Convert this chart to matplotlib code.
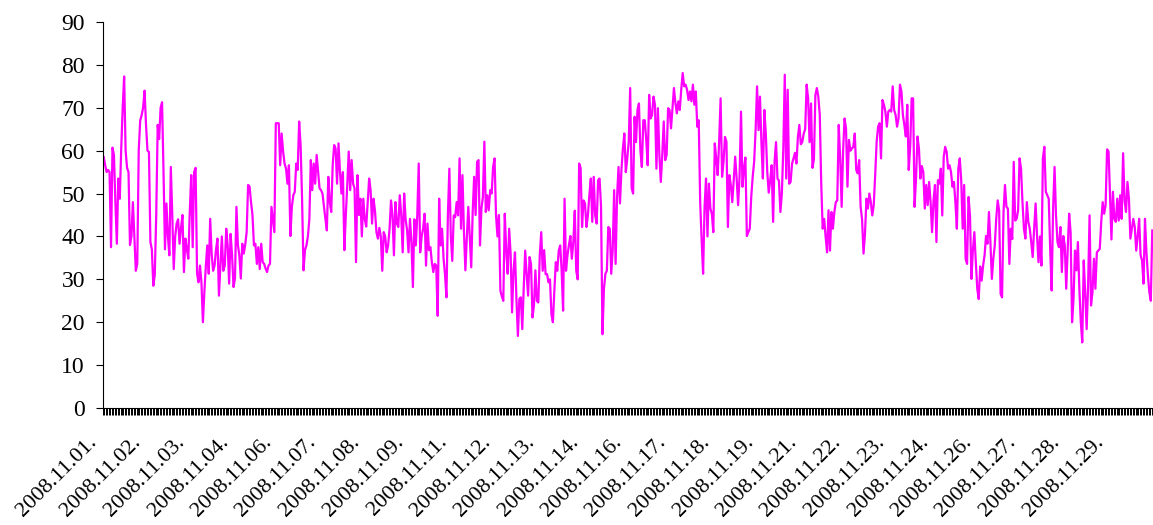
import numpy as np
import matplotlib.pyplot as plt
from matplotlib.transforms import ScaledTranslation

# hourly readings, 2008.11.01 - 2008.11.30 (one row = 30 hours = one label step)
hourly_values = [
    58.5, 56.6, 55, 55.5, 55, 37.5, 60.7, 59, 48, 38.3, 53.5, 48.8, 60.5, 70, 77.3, 60, 56, 55, 38, 40, 48, 40, 32, 33.6, 60, 67, 68.3, 70, 74, 66,
    60, 59.7, 38.7, 37, 28.5, 31, 45, 66, 62.7, 70, 71.3, 55, 37, 47.7, 40, 35.6, 56.2, 45, 32.4, 40, 43, 44, 38.3, 42, 45, 31.7, 39.5, 37, 34.8, 45.7,
    54.3, 37.5, 55, 56, 31.3, 29.3, 33.2, 29.3, 20, 27, 33, 37.9, 31.3, 44.1, 36, 32, 33.2, 37, 39.5, 26.2, 33.2, 40, 32, 33.2, 41.8, 37.9, 29, 40.6, 35.6, 28.2,
    30.2, 46.9, 38, 35.6, 30.2, 38.3, 36, 38, 41, 52, 51.6, 48, 45, 37.9, 38.3, 33.6, 37.5, 32.4, 38.3, 34, 33.6, 32.5, 31.7, 33.2, 33.6, 46.9, 44, 41, 66.4, 66.4,
    66.4, 56.6, 64, 59.8, 57, 55.8, 52.3, 56.6, 40.1, 46.9, 49.6, 50.4, 57, 55.5, 66.8, 61.3, 48.8, 32.1, 36.8, 37.9, 40, 44, 57.8, 50.8, 57, 52.3, 59, 55, 51.2, 50.8,
    50, 47, 44.1, 41.4, 53.9, 48, 45.7, 56.6, 61.3, 60.5, 52.3, 61.7, 55, 50, 55, 36.8, 45, 52, 59.8, 50.8, 57.8, 52.3, 51.2, 34, 54.3, 45, 48.8, 40, 48.8, 44,
    42.3, 48, 53.5, 50.8, 43, 48.8, 46, 41, 39.5, 42, 40, 32, 41, 40, 36.3, 37.9, 41.8, 48.4, 44.9, 35.6, 48, 43, 42.2, 49.6, 44.9, 36.3, 50, 44, 41.5, 36.3,
    44.1, 38.7, 28.2, 44, 37.9, 44.9, 57, 36.3, 40, 41.8, 45.3, 33.2, 43, 36.8, 37.5, 34, 31.7, 33.6, 33.2, 21.5, 48.8, 37.9, 41.8, 35, 31.2, 25.8, 45, 55.8, 40, 34.3,
    44.9, 44.5, 48, 44.9, 58.2, 41.8, 54.3, 41, 32.1, 40, 46.9, 40, 32.8, 45.7, 53.9, 45, 57.4, 57.8, 37.9, 46.5, 49.2, 62.1, 45.7, 49.6, 46.1, 50.8, 50, 56.2, 58.2, 44.9,
    40, 45, 27.4, 26, 25, 45.3, 36.7, 31.3, 41.8, 36, 22.3, 32.1, 36.3, 25.4, 16.8, 25.4, 25.8, 18.4, 28, 36.7, 31.2, 26.2, 35.2, 33.6, 21.1, 23.9, 32.1, 25, 24.6, 35.6,
    41, 32, 36.8, 31.2, 31.2, 29.3, 30, 21.8, 20, 27.4, 34, 32, 36.7, 37.9, 32, 22.7, 48.8, 32, 35.6, 38, 40.1, 34.8, 38.7, 46, 32, 30, 57, 56, 42.2, 48.4,
    47.7, 42.2, 44.9, 49.6, 53.5, 43.4, 53.9, 44.9, 43, 53.1, 53.5, 47, 17.2, 27.8, 31.3, 32, 42.2, 41.8, 31.3, 36.8, 50.8, 33.6, 49.2, 56.2, 47.7, 55.5, 60.5, 64, 55, 58.2,
    62.1, 74.6, 51.2, 50, 67.9, 62, 69.5, 71, 60, 56.2, 67.1, 67.1, 62.5, 56.6, 73, 67.5, 68.3, 72.6, 70.7, 55.8, 69.9, 59, 52.7, 59, 66.8, 57.8, 59, 69.9, 69.5, 65.2,
    70, 74.6, 71.1, 68.7, 71.5, 69.5, 74.2, 78.1, 75, 75.4, 74.2, 71.8, 73.8, 71.5, 75.4, 70.7, 73.8, 65.6, 67.1, 48, 39.1, 31.3, 46.9, 53.5, 40, 52.3, 46.5, 45.3, 41, 61.7,
    58.2, 54.3, 62.1, 72.2, 53.9, 57.4, 63.2, 62.1, 42.2, 54.3, 52, 48, 53.1, 58.6, 53.5, 47.3, 53.9, 69.1, 51.6, 55.8, 58.4, 40.1, 41, 41.8, 49.2, 53.9, 57.4, 64.8, 75, 64.8,
    72.6, 61.7, 53.5, 69.5, 64, 55, 50.2, 53, 56.6, 43.4, 57.4, 62, 53.5, 53, 45.7, 50, 60.5, 77.7, 53.5, 74.2, 52.3, 52.7, 57, 58.2, 59.5, 57, 63.2, 66, 61.5, 62,
    64, 65, 75.4, 72.2, 62, 71, 56, 58, 73, 74.6, 72.6, 68.3, 52.3, 41.8, 44.1, 40, 36.3, 46.1, 36.7, 45.7, 41.8, 45.7, 48, 48.4, 66, 58.2, 46.9, 60, 67.5, 65.2,
    51.6, 62.5, 60, 60.5, 60.9, 64, 55.5, 54.7, 57.8, 47, 44, 36, 40.6, 48.8, 46.5, 50, 48, 44.9, 47.3, 54.3, 62.1, 65.6, 66.4, 58.2, 71.8, 70.7, 69.1, 65.6, 69.1, 69.5,
    69.1, 75, 69.5, 68.3, 65.6, 67.5, 75.4, 73.8, 68.3, 66, 63.3, 70.7, 55.5, 60.9, 72.2, 72.2, 46.9, 53.5, 63.3, 60.5, 53.5, 56.4, 55, 46.5, 52, 47.3, 52.7, 48, 41, 48.4,
    52, 38.7, 53.1, 52.3, 55.8, 44.9, 58.6, 60.9, 59.7, 55.8, 56.6, 55, 51.6, 52.7, 48, 41.8, 55.8, 58.2, 53.1, 41.8, 52, 34.8, 33.6, 49.2, 44.9, 30.1, 36.8, 41, 34, 27.8,
    25.4, 33, 29.7, 33.2, 35.6, 40.1, 38.3, 45.7, 38.7, 30.1, 34.8, 37.9, 44.1, 48.4, 46, 26.6, 25.8, 45.7, 52, 46.9, 46.5, 33.6, 41.8, 39.4, 57.4, 43.7, 44.1, 46.1, 58.2, 55.8,
    48, 41.8, 39.5, 48, 43.4, 41.8, 38.7, 35.2, 41.8, 47.7, 40, 34, 40, 33.2, 58.2, 60.9, 50.4, 49.6, 48.8, 37.1, 27.4, 46.5, 56.2, 44.9, 38.7, 37.5, 42.2, 31.7, 40.1, 37.9,
    27.8, 37, 45.3, 41, 20, 25.4, 36.7, 32.1, 38.7, 27.8, 20, 15.3, 34.4, 27, 18.4, 28.5, 44.9, 23.9, 27, 34.8, 27.8, 36.3, 36.7, 37.1, 43.4, 48, 45.3, 47.3, 60.3, 59.8,
    50, 39.3, 50.4, 44.1, 43.4, 48.8, 43.7, 49.6, 44.1, 59.4, 48.4, 45.7, 52.7, 48.8, 39.5, 41.8, 44.1, 42.2, 36.7, 40.1, 44.1, 35.6, 34.4, 29, 44.1, 36.3, 31, 27, 25, 41.4,
]

date_labels = ["2008.11.01.", "2008.11.02.", "2008.11.03.", "2008.11.04.", "2008.11.06.",
               "2008.11.07.", "2008.11.08.", "2008.11.09.", "2008.11.11.", "2008.11.12.",
               "2008.11.13.", "2008.11.14.", "2008.11.16.", "2008.11.17.", "2008.11.18.",
               "2008.11.19.", "2008.11.21.", "2008.11.22.", "2008.11.23.", "2008.11.24.",
               "2008.11.26.", "2008.11.27.", "2008.11.28.", "2008.11.29."]
hours_per_label = 30
y_ticks = list(range(0, 91, 10))

plt.rcParams['font.family'] = ['Liberation Serif', 'DejaVu Serif']

W, H = 1153, 525
fig = plt.figure(figsize=(W / 100, H / 100), dpi=100)
ax = fig.add_axes([103 / W, 1 - 408 / H, 1 - 103 / W, (408 - 22) / H])

n = len(hourly_values)
x = np.arange(n)
ax.plot(x, hourly_values, color='#FF00FF', lw=1.6)

ax.set_xlim(-0.5, n - 0.5)
ax.set_ylim(0, 90)
ax.set_yticks(y_ticks)
ax.tick_params(axis='y', length=5, width=0.8, pad=8, labelsize=17)

# labels every 30 hours, a tick mark on every category boundary
ax.set_xticks(np.arange(0, n, hours_per_label))
ax.set_xticklabels(date_labels, rotation=45, ha='right', va='baseline',
                   rotation_mode='anchor', fontsize=16)
ax.set_xticks(np.arange(n + 1) - 0.5, minor=True)
ax.tick_params(axis='x', which='major', length=0, pad=25)
ax.tick_params(axis='x', which='minor', length=5, width=0.7)
shift = ScaledTranslation(-6 / 100, 0, fig.dpi_scale_trans)
for lab in ax.get_xticklabels():
    lab.set_transform(lab.get_transform() + shift)

ax.spines['top'].set_visible(False)
ax.spines['right'].set_visible(False)
for s in ('left', 'bottom'):
    ax.spines[s].set_linewidth(0.8)

fig.savefig('out.png', dpi=100)
